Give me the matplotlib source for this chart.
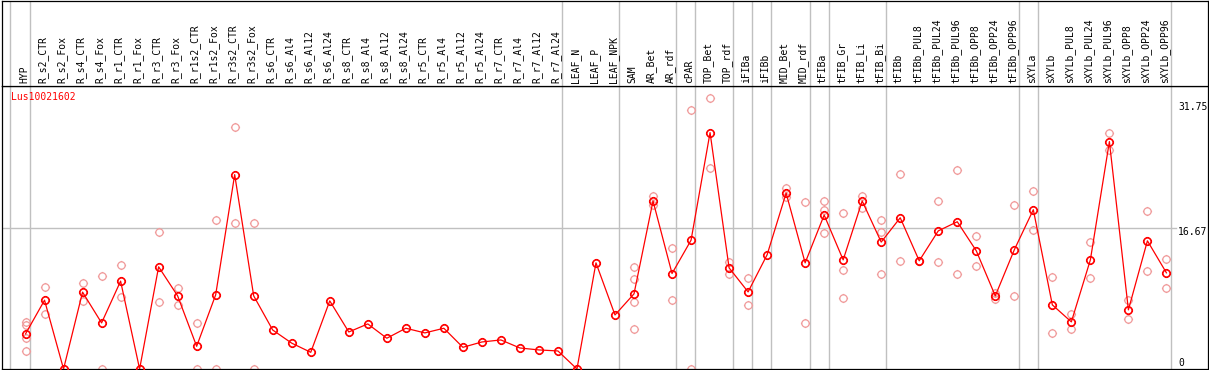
import numpy as np
import matplotlib
matplotlib.use("Agg")
import matplotlib.pyplot as plt
from matplotlib.path import Path
from matplotlib.transforms import blended_transform_factory, offset_copy

plt.rcParams['font.family'] = ['DejaVu Sans Mono']

gene = "Lus10021602"

samples = ["HYP", "R_s2_CTR", "R_s2_Fox", "R_s4_CTR", "R_s4_Fox", "R_r1_CTR", "R_r1_Fox",
           "R_r3_CTR", "R_r3_Fox", "R_r1s2_CTR", "R_r1s2_Fox", "R_r3s2_CTR", "R_r3s2_Fox",
           "R_s6_CTR", "R_s6_Al4", "R_s6_Al12", "R_s6_Al24", "R_s8_CTR", "R_s8_Al4",
           "R_s8_Al12", "R_s8_Al24", "R_r5_CTR", "R_r5_Al4", "R_r5_Al12", "R_r5_Al24",
           "R_r7_CTR", "R_r7_Al4", "R_r7_Al12", "R_r7_Al24", "LEAF_N", "LEAF_P", "LEAF_NPK",
           "SAM", "AR_Bet", "AR_rdf", "cPAR", "TOP_Bet", "TOP_rdf", "iFIBa", "iFIBb",
           "MID_Bet", "MID_rdf", "tFIBa", "tFIB_Gr", "tFIB_Li", "tFIB_Bi", "tFIBb",
           "tFIBb_PUL8", "tFIBb_PUL24", "tFIBb_PUL96", "tFIBb_OPP8", "tFIBb_OPP24",
           "tFIBb_OPP96", "sXYLa", "sXYLb", "sXYLb_PUL8", "sXYLb_PUL24", "sXYLb_PUL96",
           "sXYLb_OPP8", "sXYLb_OPP24", "sXYLb_OPP96"]

mean_expr = [4.14, 8.12, 0, 9.07, 5.44, 10.37, 0, 12.06, 8.63, 2.68, 8.75, 22.94, 8.63,
             4.6, 3.05, 1.97, 8.04, 4.37, 5.32, 3.63, 4.81, 4.26, 4.81, 2.56, 3.19,
             3.43, 2.48, 2.25, 2.13, 0, 12.53, 6.38,
             8.87, 19.83, 11.27, 15.2, 27.9, 11.94, 9.1, 13.48,
             20.76, 12.53, 18.17, 12.88, 19.83, 14.98, 17.85,
             12.77, 16.3, 17.38, 13.95, 8.63,
             14.07, 18.8, 7.57, 5.56, 12.88, 26.84,
             6.98, 15.13, 11.35]

replicates = [[5.56, 5.2, 3.6, 2.13], [9.7, 6.5], [], [10.17, 8.0], [11.0, 0], [12.26, 8.47], [],
              [16.16, 7.88], [9.54, 7.6], [5.44, 0], [17.58, 0], [28.57, 17.2], [17.2, 0],
              [], [], [], [], [], [],
              [], [], [], [], [], [],
              [], [], [], [], [], [], [],
              [12.06, 10.6, 7.88, 4.73], [20.4, 19.35], [14.3, 8.16], [30.6, 0], [32.0, 23.7],
              [12.65, 11.2], [10.72, 7.53], [],
              [21.4, 20.3], [19.7, 5.4], [19.8, 18.76, 16.04], [18.4, 11.67, 8.35],
              [20.4, 19.0], [17.6, 16.16, 11.23], [23.0, 12.73],
              [12.77, 12.77], [19.86, 12.65], [23.5, 11.23], [15.7, 12.18], [9.0, 8.28],
              [19.4, 8.63], [21.0, 16.4], [10.84, 4.26], [6.5, 4.73], [15.0, 10.72],
              [27.8, 25.9], [8.16, 5.91], [18.68, 11.59], [13.0, 9.54]]

# last sample of each group (separator lines drawn after them)
group_ends = [0, 28, 31, 34, 35, 37, 38, 39, 41, 42, 45, 52, 53, 60]
y_labels = [31.75, 16.67, 0]

W, H = 1209, 370
fig = plt.figure(figsize=(W / 100, H / 100), dpi=100)
fig.patch.set_facecolor("white")

left, right = 1.5 / W, 1207.5 / W
sep = 85.5
ax = fig.add_axes([left, 1 / H, right - left, (H - sep - 1) / H])
axh = fig.add_axes([left, (H - sep) / H, right - left, (sep - 0.5) / H], sharex=ax)

ax.set_xlim(-1.263, 62.16)
ax.set_ylim(0, 33.46)
for a in (ax, axh):
    a.set_xticks([])
    a.set_yticks([])
    for s in a.spines.values():
        s.set_color("black")
        s.set_linewidth(0.9)
axh.set_ylim(0, 1)

grid_c = "#c0c0c0"
seps = [-0.8] + [g + 0.23 for g in group_ends]
for xs in seps:
    ax.axvline(xs, color=grid_c, lw=1.0, zorder=0)
    axh.axvline(xs, color=grid_c, lw=1.0, zorder=0)
ax.axhline(16.67, xmax=(1176 - 1.5) / 1206, color=grid_c, lw=1.0, zorder=0)

# marker: polygon circle with four short ticks
th = np.linspace(0, 2 * np.pi, 33)
cv = np.column_stack([np.cos(th), np.sin(th)])
circ = Path(cv, [Path.MOVETO] + [Path.LINETO] * 31 + [Path.CLOSEPOLY])
tk = 1.25
ticks = Path([(0, 1), (0, tk), (0, -1), (0, -tk), (1, 0), (tk, 0), (-1, 0), (-tk, 0)],
             [Path.MOVETO, Path.LINETO] * 4)
mk = Path.make_compound_path(circ, ticks)

xi = list(range(len(samples)))
rx, ry = [], []
for i, reps in enumerate(replicates):
    for v in reps:
        rx.append(i)
        ry.append(v)
ax.plot(rx, ry, linestyle="none", marker=mk, ms=6.6, mfc="none", mec="#f09a9a",
        mew=0.9, zorder=2)
ax.plot(xi, mean_expr, color="#ff0000", lw=0.9, marker=mk, ms=6.6, mfc="none",
        mec="#ff0000", mew=1.2, zorder=3)

# sample labels in the header
htr = blended_transform_factory(axh.transData, axh.transAxes)
for i, s in enumerate(samples):
    axh.text(i - 0.08, 0.03, s, rotation=90, ha="center", va="bottom", fontsize=7,
             transform=htr)

# right-hand value labels
vtr = blended_transform_factory(ax.transAxes, ax.transData)
offs = [-6.6, -4.3, 6.5]
for v, o in zip(y_labels, offs):
    t = offset_copy(vtr, fig=fig, x=0, y=o * 0.72, units="points")
    ax.text((1178 - 1.5) / 1206, v, f"{v:g}" if v == 0 else f"{v:.2f}",
            ha="left", va="center", fontsize=7, transform=t)

ax.text(9.5 / 1206, 1 - 12 / (H - sep), gene, color="#ff0000", fontsize=7,
        ha="left", va="center", transform=ax.transAxes)

fig.savefig("out.png", dpi=100)
